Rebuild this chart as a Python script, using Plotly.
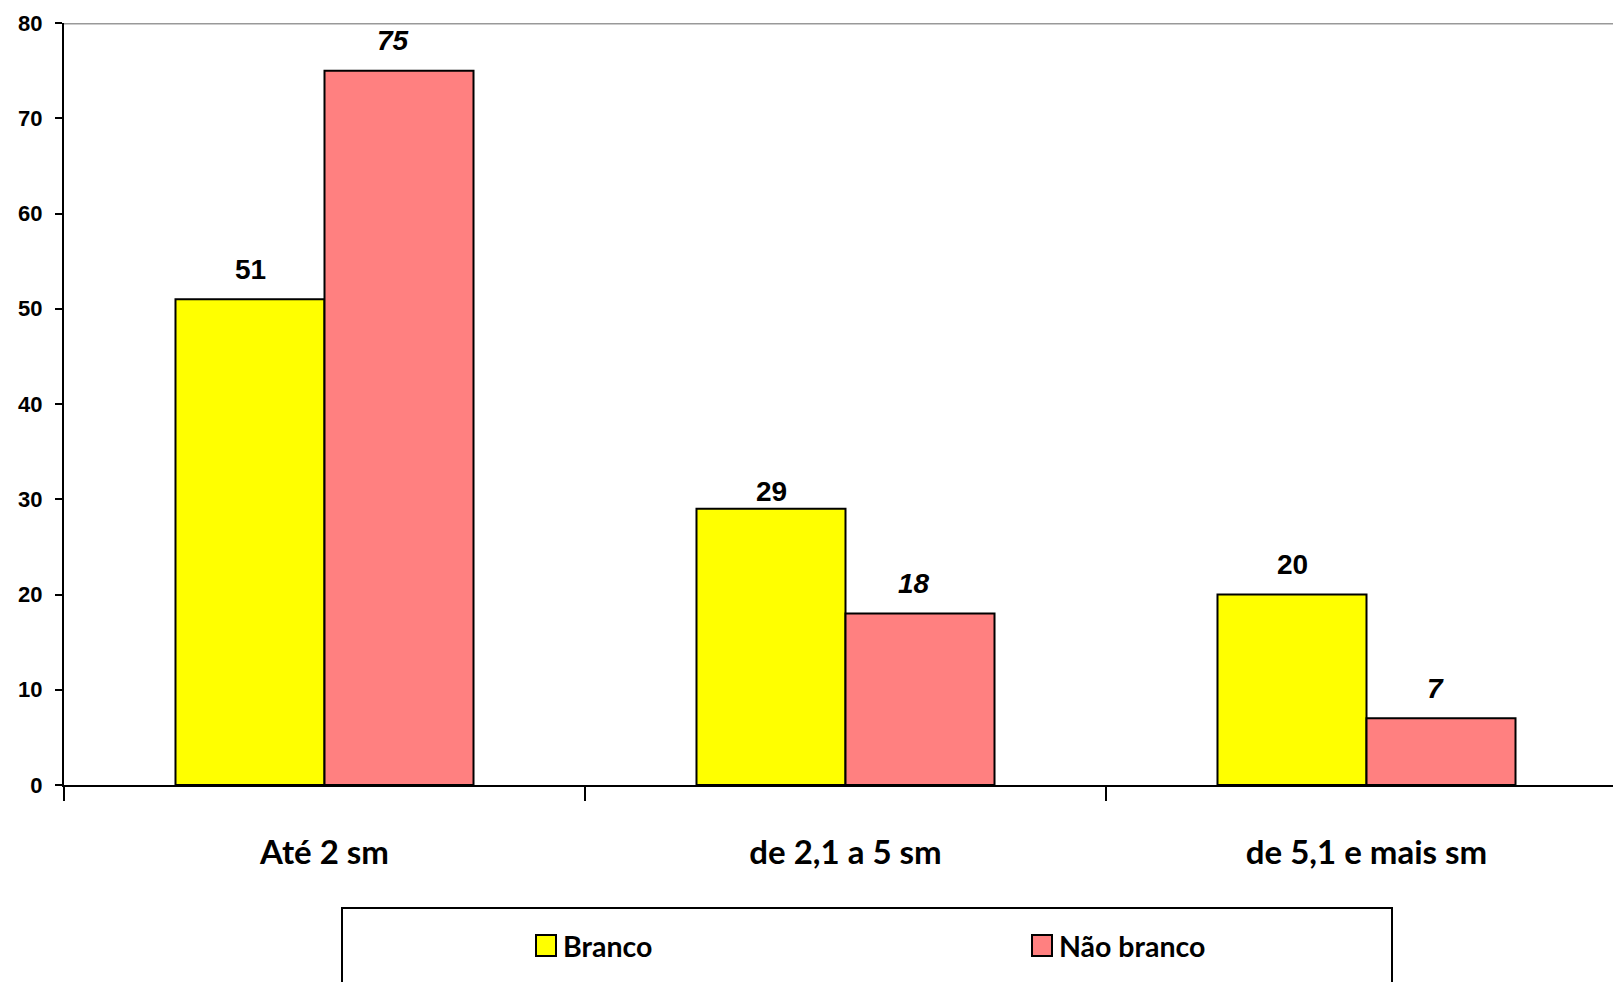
import plotly.graph_objects as go

# Income bands and share (%) of each group
categories = ["Até 2 sm", "de 2,1 a 5 sm", "de 5,1 e mais sm"]
series_names = ["Branco", "Não branco"]
branco = [51, 29, 20]
nao_branco = [75, 18, 7]
y_ticks = [0, 10, 20, 30, 40, 50, 60, 70, 80]

colors = ["#FFFF00", "#FF8080"]
W, H = 1613, 982
L, R, T, B = 64, 0, 23, 197
plot_w = W - L - R
plot_h = H - T - B

cat_px = 521.0
x_end = -0.5 + plot_w / cat_px
bargap = 0.428
bar_w = (1 - bargap) / 2

# vertical offset (px) of each value label above its bar
branco_shift = [30, 17, 30]
nao_branco_shift = [30, 30, 30]

label_font = "Liberation Sans, Arial, sans-serif"
cat_font = "Lato, Open Sans, sans-serif"


def px_x(px):
    return (px - L) / plot_w


def px_y(py):
    return (H - B - py) / plot_h


fig = go.Figure()
for name, vals, col in zip(series_names, [branco, nao_branco], colors):
    fig.add_trace(go.Bar(
        name=name, x=categories, y=vals,
        marker=dict(color=col, line=dict(color="black", width=2)),
        showlegend=False,
    ))

annotations = []
for i in range(len(categories)):
    annotations.append(dict(
        x=i - bar_w / 2, y=branco[i], xref="x", yref="y",
        text=f"<b>{branco[i]}</b>", showarrow=False,
        yshift=branco_shift[i],
        font=dict(family=label_font, size=28, color="black"),
    ))
    annotations.append(dict(
        x=i + bar_w / 2, y=nao_branco[i], xref="x", yref="y",
        text=f"<b><i>{nao_branco[i]}</i></b>", showarrow=False,
        yshift=nao_branco_shift[i], xshift=-6,
        font=dict(family=label_font, size=28, color="black"),
    ))

shapes = [
    # top border line at the axis maximum
    dict(type="line", xref="paper", yref="y", x0=0, x1=1, y0=80, y1=80,
         line=dict(color="#999999", width=3)),
    # legend frame
    dict(type="rect", xref="paper", yref="paper",
         x0=px_x(342), x1=px_x(1392), y0=px_y(1000), y1=px_y(908),
         line=dict(color="black", width=2), fillcolor="white", layer="below"),
]

legend_x = [536, 1032]
for name, col, lx in zip(series_names, colors, legend_x):
    shapes.append(dict(
        type="rect", xref="paper", yref="paper",
        x0=px_x(lx), x1=px_x(lx + 20), y0=px_y(956), y1=px_y(935),
        fillcolor=col, line=dict(color="black", width=2),
    ))
    annotations.append(dict(
        x=px_x(lx + 25), y=px_y(946), xref="paper", yref="paper",
        xanchor="left", yanchor="middle", text=f"<b>{name}</b>",
        showarrow=False,
        font=dict(family=cat_font, size=28.5, color="black"),
    ))

fig.update_layout(
    width=W, height=H,
    margin=dict(l=L, r=R, t=T, b=B, pad=0),
    paper_bgcolor="white", plot_bgcolor="white",
    barmode="group", bargap=bargap, bargroupgap=0,
    annotations=annotations, shapes=shapes,
    showlegend=False,
)
fig.update_xaxes(
    type="category", range=[-0.5, x_end],
    tickvals=categories, ticktext=[f"<b>{c}</b>" for c in categories],
    showline=True, linecolor="black", linewidth=2,
    ticks="outside", tickson="boundaries", ticklen=14, tickwidth=2,
    tickcolor="black", showgrid=False, zeroline=False,
    tickfont=dict(family=cat_font, size=33, color="black"),
    ticklabelstandoff=37,
)
fig.update_yaxes(
    range=[0, 80], tickvals=y_ticks,
    ticktext=[f"<b>{v}</b>" for v in y_ticks],
    showline=True, linecolor="black", linewidth=2,
    ticks="outside", ticklen=7, tickwidth=2, tickcolor="black",
    showgrid=False, zeroline=False,
    tickfont=dict(family=label_font, size=22, color="black"),
    ticklabelstandoff=8,
)

fig.write_html("out.html")
